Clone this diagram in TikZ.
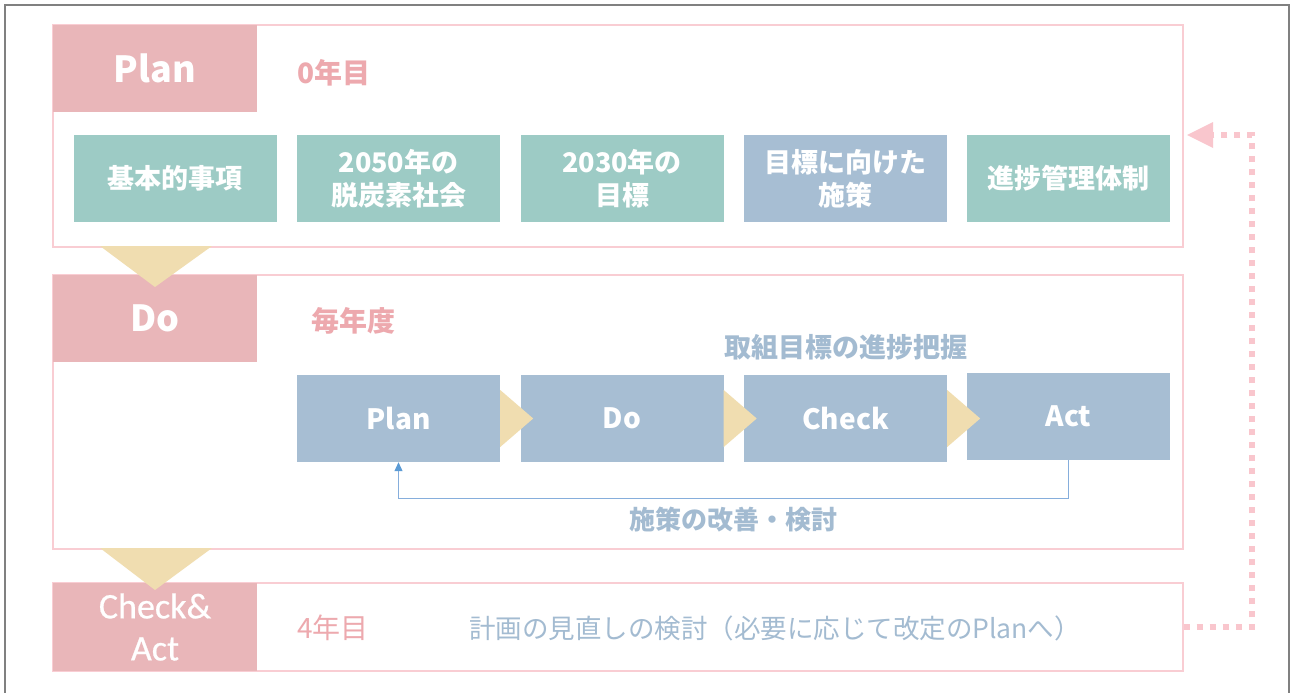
\documentclass[tikz,border=0pt]{standalone}
\usepackage{fontspec}
\setmainfont{Noto Sans CJK JP}
\newfontfamily\narrowfont[FakeBold=0.6]{Carlito}
\usetikzlibrary{arrows.meta}
\definecolor{pinkLab}{HTML}{E9B6B9}
\definecolor{tealBox}{HTML}{9DCBC5}
\definecolor{blueBox}{HTML}{A7BED3}
\definecolor{yellowTri}{HTML}{F0DDB0}
\definecolor{pinkLine}{HTML}{F9CDD3}
\definecolor{pinkText}{HTML}{EDA9AE}
\definecolor{blueText}{HTML}{A3BBD1}
\definecolor{arrowBlue}{HTML}{5B9BD5}
\definecolor{arrowLine}{HTML}{86AEDC}
\definecolor{dotPink}{HTML}{F9C6CD}
\begin{document}
\begin{tikzpicture}[x=1pt,y=-1pt,
  section/.style={draw=pinkLine,line width=1.2pt,fill=white,minimum width=1130pt,inner sep=0pt},
  labelbox/.style={fill=pinkLab,minimum width=204pt,inner sep=0pt,text=white,align=center},
  bigtext/.style={font=\fontsize{36}{40}\selectfont\bfseries},
  itembox/.style={minimum width=203pt,minimum height=87pt,inner sep=0pt,text=white,align=center,font=\fontsize{27}{33}\selectfont\bfseries},
  teal/.style={itembox,fill=tealBox},
  bluebox/.style={itembox,fill=blueBox},
  pdcabox/.style={bluebox,font=\fontsize{28}{33}\selectfont\bfseries},
  tri/.style={fill=yellowTri},
  yeartext/.style={text=pinkText,anchor=west,inner sep=0pt,font=\fontsize{28}{30}\selectfont},
  notetext/.style={text=blueText,inner sep=0pt,font=\fontsize{27}{30}\selectfont\bfseries}
]
\useasboundingbox (0,0) rectangle (1293,693);
\fill[white] (0,0) rectangle (1293,693);
\draw[line width=1.5pt,color=black!50] (5,694) -- (5,5) -- (1289,5) -- (1289,694);

% sections
\node[section,minimum height=222pt] (secPlan) at (618,136) {};
\node[section,minimum height=274pt] (secDo) at (618,412) {};
\node[section,minimum height=88pt] (secCA) at (618,627) {};

% labels
\node[labelbox,bigtext,minimum height=87pt] (labPlan) at (155,68.5) {Plan};
\node[labelbox,bigtext,minimum height=87pt] (labDo) at (155,318.5) {Do};
\node[labelbox,minimum height=88pt,font=\fontsize{36}{42}\selectfont\narrowfont] (labCA) at (155,627) {Check\&\\Act};

% year texts
\node[yeartext,font=\fontsize{28}{30}\selectfont\bfseries] (y0) at (297,73) {0年目};
\node[yeartext,font=\fontsize{28}{30}\selectfont\bfseries] (yEvery) at (311,321) {毎年度};
\node[yeartext] (y4) at (297,628) {4年目};

% plan items
\node[teal] (i1) at (175,178.5) {基本的事項};
\node[teal] (i2) at (398.5,178.5) {2050年の\\脱炭素社会};
\node[teal] (i3) at (622,178.5) {2030年の\\目標};
\node[bluebox] (i4) at (845.5,178.5) {目標に向けた\\施策};
\node[teal] (i5) at (1068.5,178.5) {進捗管理体制};

% PDCA
\node[notetext] (progress) at (846,347) {取組目標の進捗把握};
\node[pdcabox] (pP) at (398.5,418.5) {Plan};
\node[pdcabox] (pD) at (622,418.5) {Do};
\node[pdcabox] (pC) at (845.5,418.5) {Check};
\node[pdcabox] (pA) at (1068.5,416.5) {Act};

\foreach \b in {pP,pD,pC}{
  \fill[tri] (\b.east |- 0,390) -- (\b.east |- 0,447) -- ([xshift=33pt]\b.east |- 0,418.5) -- cycle;
}

% feedback loop
\coordinate (fbA) at (pA.south |- 0,498);
\coordinate (fbP) at (pP.south |- 0,498);
\draw[arrowLine,line width=1pt,-{Triangle[length=9pt,width=8pt,color=arrowBlue]}] (pA.south) -- (fbA) -- (fbP) -- (pP.south);
\node[notetext,font=\fontsize{26}{30}\selectfont\bfseries] (improve) at (733,520) {施策の改善・検討};

% down triangles
\fill[tri] (100,246) -- (212,246) -- (155,287) -- cycle;
\fill[tri] (100,548) -- (212,548) -- (155,590) -- cycle;

% check & act note
\node[notetext,font=\fontsize{26.5}{30}\selectfont] (review) at (775,628) {計画の見直しの検討（必要に応じて改定のPlanへ）};

% dotted return arrow
\coordinate (dR) at (1252,627);
\coordinate (dT) at (1252,135);
\coordinate (dEnd) at (1187,135);
\draw[dotPink,line width=6pt,dash pattern=on 6pt off 7pt] (secCA.east) -- (dR) -- (dT) -- (1212,135);
\fill[dotPink] (dEnd) -- (1213,122) -- (1213,148) -- cycle;
\end{tikzpicture}
\end{document}
